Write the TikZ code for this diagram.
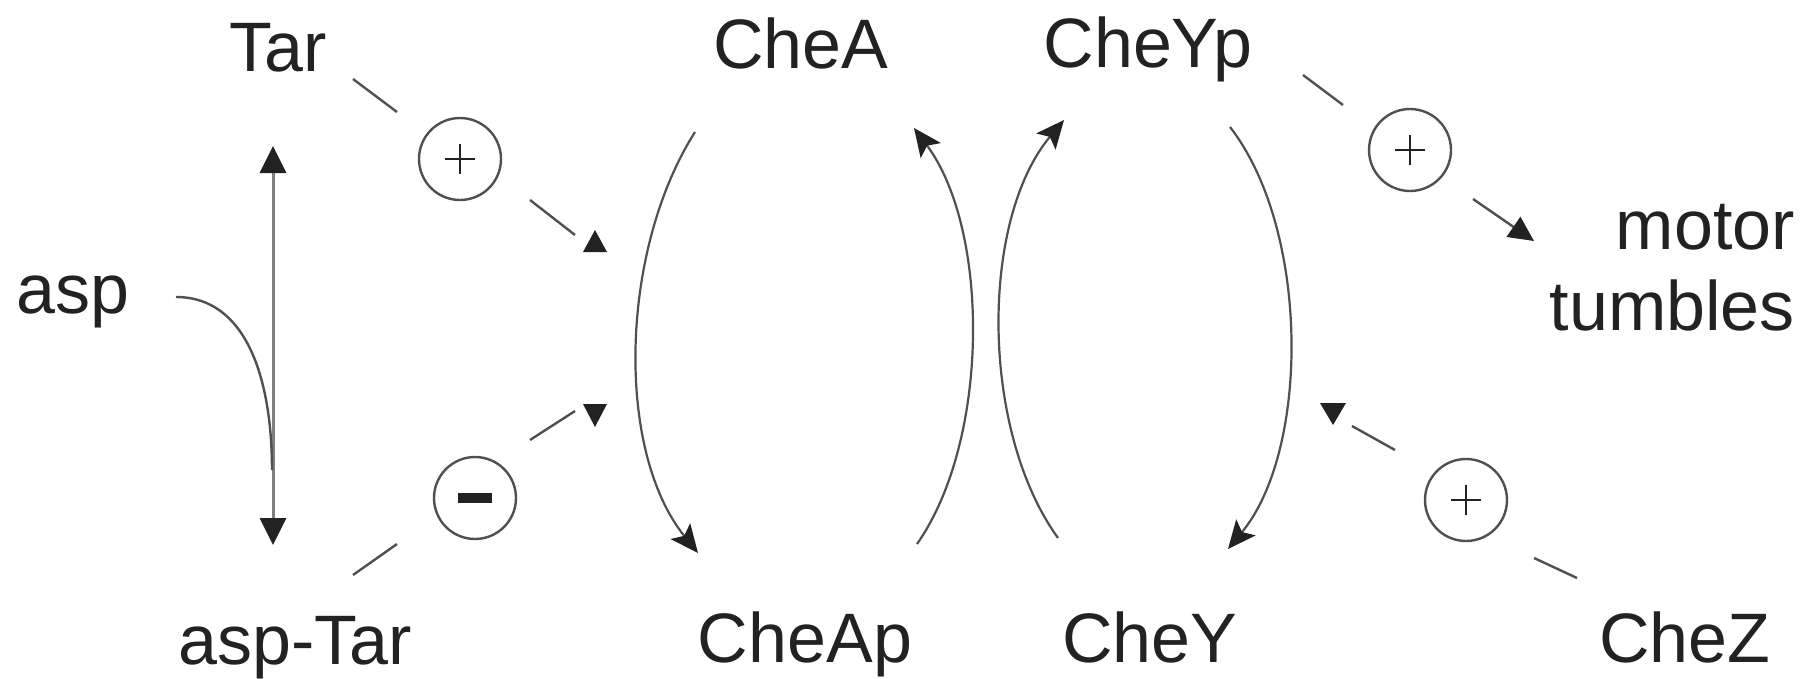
\documentclass[tikz,border=0pt]{standalone}
\usepackage{fontspec}
\setmainfont{Liberation Sans}
\usetikzlibrary{arrows.meta}
\definecolor{ink}{HTML}{222222}
\definecolor{ln}{HTML}{505050}
\definecolor{vln}{HTML}{808080}
\begin{document}
\begin{tikzpicture}[x=1pt,y=-1pt,
 lbl/.style={font=\fontsize{70}{81}\selectfont, text=ink, inner sep=0pt, anchor=base},
 conn/.style={draw=ln, line width=2.4pt},
 cyc/.style={draw=ln, line width=2.2pt, -{Stealth[length=28pt,width=25pt,inset=6pt,color=ink]}},
 sign/.style={circle, draw=ln, line width=2.4pt, minimum size=82pt, inner sep=0pt},
 plusbar/.style={draw=ink, line width=2.6pt},
 tri/.style={fill=ink}
]
\path[use as bounding box] (0,0) rectangle (1816,678);
\fill[white] (0,0) rectangle (1816,678);

% labels
\node[lbl] (tar) at (278,71) {Tar};
\node[lbl] (asp) at (73,313) {asp};
\node[lbl] (asptar) at (295,664) {asp-Tar};
\node[lbl] (chea) at (801,68) {CheA};
\node[lbl] (cheyp) at (1148,67) {CheYp};
\node[lbl] (cheap) at (805,662) {CheAp};
\node[lbl] (chey) at (1150,662) {CheY};
\node[lbl] (chez) at (1685,662) {CheZ};
\node[lbl, anchor=base east, align=right] (motor) at (1795,330) {motor\\tumbles};

% sign circles
\node[sign] (s1) at (460,159) {};
\node[sign] (s2) at (475,498) {};
\node[sign] (s3) at (1410,150) {};
\node[sign] (s4) at (1466,500) {};
\foreach \s in {s1,s3,s4}{
  \draw[plusbar] ([xshift=-15pt]\s.center) -- ([xshift=15pt]\s.center);
  \draw[plusbar] ([yshift=-15pt]\s.center) -- ([yshift=15pt]\s.center);
}
\fill[ink] ([xshift=-17pt,yshift=-5pt]s2.center) rectangle ([xshift=17pt,yshift=5pt]s2.center);

% asp <-> asp-Tar
\coordinate (vt) at (273,146);
\coordinate (vb) at (273,545);
\draw[draw=vln, line width=3pt, {Triangle[length=27pt,width=26pt,color=ink]}-{Triangle[length=27pt,width=26pt,color=ink]}] (vt) -- (vb);
\coordinate (aspA) at (176,297);
\coordinate (aspB) at (272,470);
\draw[conn] (aspA) .. controls (247,297) and (272,380) .. (aspB);

% Tar -> (+)
\coordinate (t1) at (353,79); \coordinate (t2) at (397,112);
\coordinate (t3) at (530,200); \coordinate (t4) at (575,235);
\draw[conn] (t1) -- (t2);
\draw[conn] (t3) -- (t4);
\coordinate (tu) at (595,230);
\fill[tri] (tu) -- ++(12,22) -- ++(-24,0) -- cycle;

% asp-Tar -> (-)
\coordinate (m1) at (353,575); \coordinate (m2) at (397,544);
\coordinate (m3) at (530,440); \coordinate (m4) at (575,411);
\draw[conn] (m1) -- (m2);
\draw[conn] (m3) -- (m4);
\coordinate (md) at (595,427);
\fill[tri] (md) -- ++(12,-23) -- ++(-24,0) -- cycle;

% CheYp -> (+) -> motor
\coordinate (y1) at (1303,75); \coordinate (y2) at (1343,105);
\coordinate (y3) at (1473,199); \coordinate (y4) at (1534,241);
\draw[conn] (y1) -- (y2);
\draw[conn, -{Triangle[length=25pt,width=24pt,color=ink]}] (y3) -- (y4);

% CheZ -> (+)
\coordinate (z1) at (1352,426); \coordinate (z2) at (1395,450);
\coordinate (z3) at (1534,558); \coordinate (z4) at (1577,578);
\draw[conn] (z1) -- (z2);
\draw[conn] (z3) -- (z4);
\coordinate (zd) at (1333,425);
\fill[tri] (zd) -- ++(13,-22) -- ++(-26,0) -- cycle;

% cycles
\coordinate (ca1) at (695,132); \coordinate (ca2) at (698,553);
\draw[cyc] (ca1) .. controls (620,250) and (615,450) .. (ca2);
\coordinate (ca3) at (917,544); \coordinate (ca4) at (914,128);
\draw[cyc] (ca3) .. controls (990,440) and (990,230) .. (ca4);
\coordinate (cy1) at (1058,538); \coordinate (cy2) at (1064,120);
\draw[cyc] (cy1) .. controls (980,430) and (980,220) .. (cy2);
\coordinate (cy3) at (1230,127); \coordinate (cy4) at (1228,549);
\draw[cyc] (cy3) .. controls (1310,230) and (1310,450) .. (cy4);
\end{tikzpicture}
\end{document}
